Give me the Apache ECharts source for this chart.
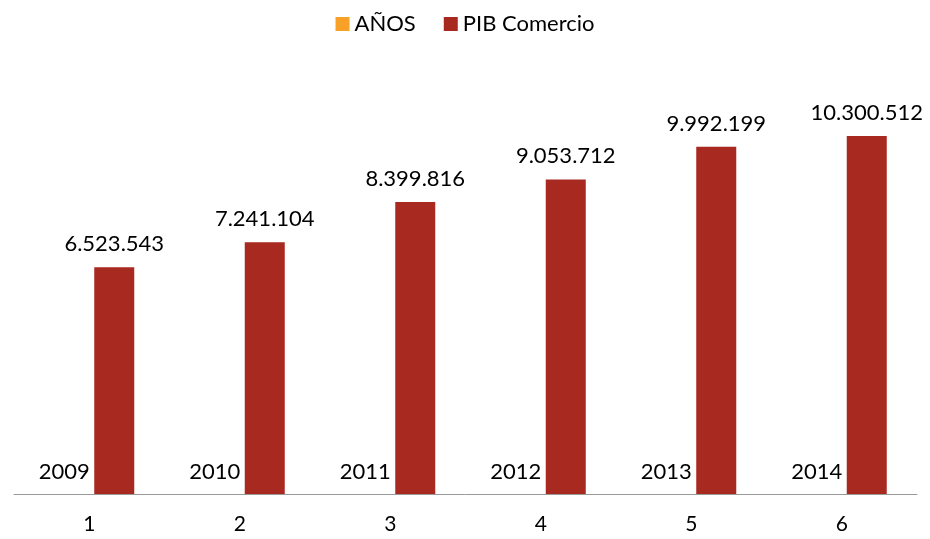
<!DOCTYPE html>
<html>
<head>
<meta charset="utf-8">
<script src="https://cdn.jsdelivr.net/npm/echarts@6/dist/echarts.min.js"></script>
<style>
  html, body { margin: 0; padding: 0; background: #fff; }
  #chart { width: 930px; height: 539px; }
</style>
</head>
<body>
<div id="chart"></div>
<script>
// datos del gráfico
const categories = ["1", "2", "3", "4", "5", "6"];
const anos = [2009, 2010, 2011, 2012, 2013, 2014];
const pibComercio = [6523543, 7241104, 8399816, 9053712, 9992199, 10300512];

const fmtMiles = (v) => String(v).replace(/\B(?=(\d{3})+(?!\d))/g, ".");

const fontFam = "Lato, 'Open Sans', sans-serif";

const chart = echarts.init(document.getElementById("chart"), null, { renderer: "canvas" });

chart.setOption({
  animation: false,
  textStyle: { fontFamily: fontFam },
  legend: {
    top: 8,
    left: "center",
    itemWidth: 14,
    itemHeight: 14,
    itemGap: 28,
    icon: "rect",
    textStyle: { fontSize: 22, color: "#000", fontFamily: fontFam },
    data: ["AÑOS", "PIB Comercio"],
  },
  grid: {
    left: 14,
    right: 13,
    top: 77,
    bottom: 45,
  },
  xAxis: {
    type: "category",
    data: categories,
    axisLine: { show: true, lineStyle: { color: "#999", width: 1 } },
    axisTick: { show: false },
    axisLabel: { color: "#000", fontSize: 21, margin: 20, fontFamily: fontFam },
  },
  yAxis: {
    type: "value",
    show: false,
    min: 0,
    max: 12000000,
    splitLine: { show: false },
  },
  series: [
    {
      name: "AÑOS",
      type: "bar",
      data: anos,
      barWidth: 40,
      barGap: "25%",
      itemStyle: { color: "#F7A128" },
      label: {
        show: true,
        position: "top",
        distance: 11,
        color: "#000",
        fontSize: 22,
        fontFamily: fontFam,
      },
    },
    {
      name: "PIB Comercio",
      type: "bar",
      data: pibComercio,
      barWidth: 40,
      itemStyle: { color: "#A8291F" },
      label: {
        show: true,
        position: "top",
        distance: 12,
        color: "#000",
        fontSize: 22,
        fontFamily: fontFam,
        formatter: (p) => fmtMiles(p.value),
      },
    },
  ],
});
</script>
</body>
</html>
